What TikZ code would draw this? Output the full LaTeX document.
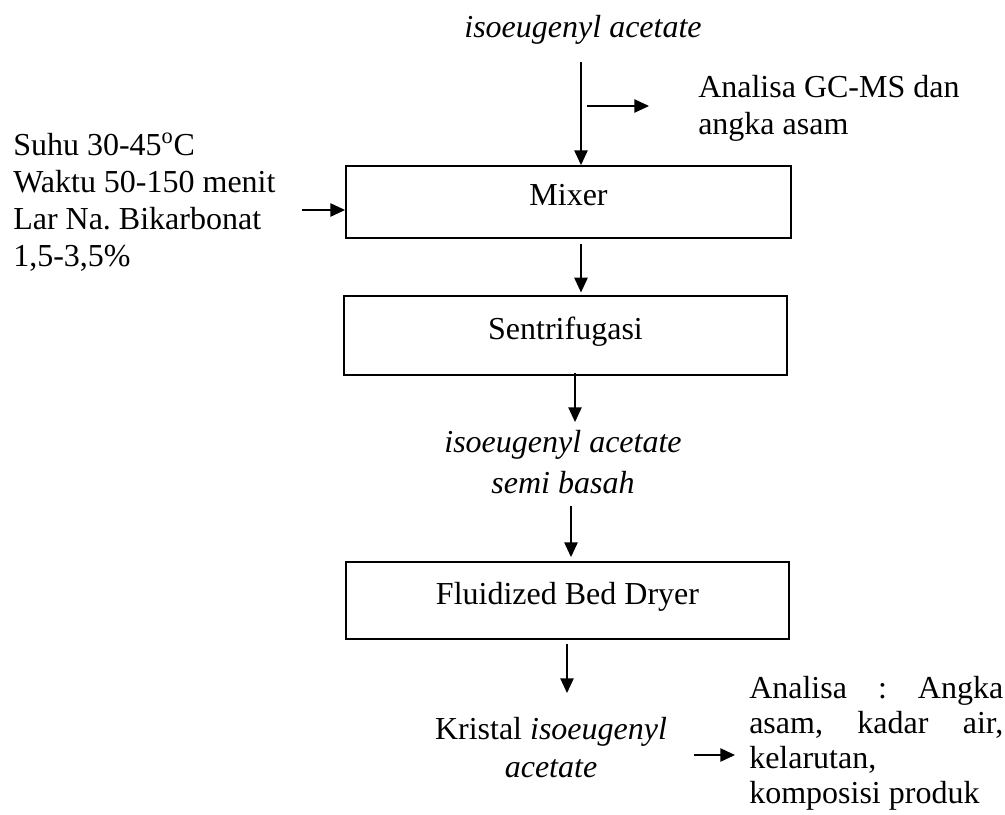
\documentclass[tikz,border=0pt]{standalone}
\usepackage{fontspec}
\setmainfont{Liberation Serif}
\usetikzlibrary{arrows.meta}
\frenchspacing
\begin{document}
\begin{tikzpicture}[x=0.75pt,y=-0.75pt,
  every node/.style={font=\fontsize{24}{27.75}\selectfont, inner sep=0pt},
  procbox/.style={draw, line width=1.4pt, text height=16pt, text depth=10.7pt},
  arr/.style={line width=1pt, -{Triangle[length=11pt,width=10pt]}}]
\fill[white] (0,0) rectangle (1005,814);
\useasboundingbox (0,0) rectangle (1005,814);

% x positions of the vertical arrows
\coordinate (xa) at (581,0);
\coordinate (xb) at (581,0);
\coordinate (xc) at (575,0);
\coordinate (xd) at (571,0);
\coordinate (xe) at (567,0);

% nodes
\node (top) at (583,30) {\itshape isoeugenyl acetate};
\node[anchor=west, align=left] (gcms) at (698,108) {Analisa GC-MS dan\\angka asam};
\node[procbox, minimum width=333.75pt, minimum height=54pt] (mixer) at (568.5,202) {Mixer};
\node[anchor=west, align=left] (cond) at (13,202)
  {Suhu 30-45\textsuperscript{o}C\\Waktu 50-150 menit\\Lar Na. Bikarbonat\\1,5-3,5\%};
\node[procbox, minimum width=332.25pt, minimum height=59.25pt] (sent) at (565.5,335.5) {Sentrifugasi};
\node[align=center, font=\fontsize{24}{30.75}\selectfont\itshape] (semi) at (563,462)
  {isoeugenyl acetate\\semi basah};
\node[procbox, minimum width=332.25pt, minimum height=57.75pt] (fbd) at (567.5,600.5) {Fluidized Bed Dryer};
\node[align=center, font=\fontsize{24}{28.5}\selectfont] (kristal) at (551,747.5)
  {Kristal \textit{isoeugenyl}\\\textit{acetate}};
\node[anchor=north west, align=left, font=\fontsize{24}{26.25}\selectfont] (anal) at (749,676)
  {\makebox[190.5pt][s]{Analisa : Angka}\\\makebox[190.5pt][s]{asam, kadar air,}\\kelarutan,\\komposisi produk};

% free ends of connectors
\coordinate (topout) at (581,62);
\coordinate (br1) at (587,106);
\coordinate (br2) at (649,106);
\coordinate (condout) at (302,210);
\coordinate (sentin) at (575,422);
\coordinate (semiout) at (571,506);
\coordinate (krisin) at (567,693);
\coordinate (krisout) at (694,755);
\coordinate (analin) at (735,755);

% connectors
\draw[arr] (topout) -- (mixer.north -| xa);
\draw[arr] (br1) -- (br2);
\draw[arr] (condout) -- (mixer.west |- condout);
\draw[arr, shorten <=3.75pt, shorten >=2pt] (mixer.south -| xb) -- (sent.north -| xb);
\draw[arr, shorten <=-2pt] (sent.south -| xc) -- (sentin);
\draw[arr, shorten >=3pt] (semiout) -- (fbd.north -| xd);
\draw[arr, shorten <=3pt] (fbd.south -| xe) -- (krisin);
\draw[arr] (krisout) -- (analin);
\end{tikzpicture}
\end{document}
